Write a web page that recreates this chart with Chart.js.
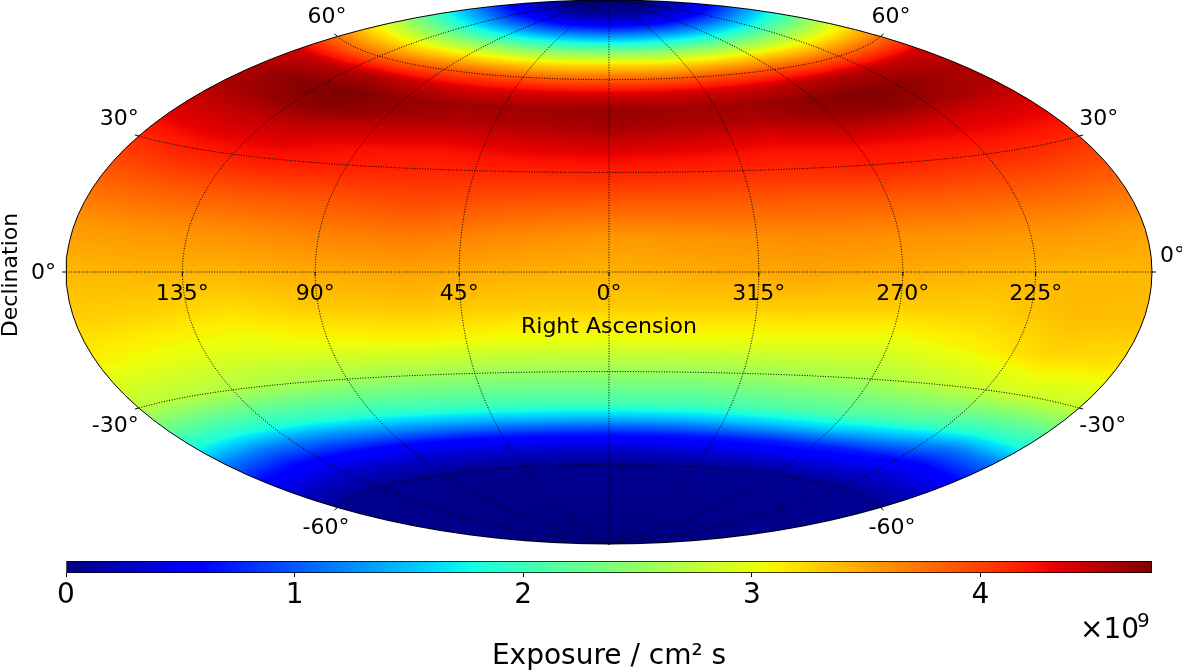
<!DOCTYPE html>
<html>
<head>
<meta charset="utf-8">
<style>
  html, body { margin: 0; background: #fff; }
  canvas { position: absolute; left: 0; }
</style>
<script src="https://cdn.jsdelivr.net/npm/chart.js@4"></script>
</head>
<body>
<canvas id="map" width="1182" height="560" style="top:0"></canvas>
<canvas id="bar" width="1182" height="116" style="top:555px"></canvas>
<script>
// exposure, units of 1e9 cm^2 s
const offsets = [-180, -150, -120, -90, -60, -30, 0, 30, 60, 90, 120, 150, 180]; // degrees from map centre, left to right
const declinations = [90, 85, 80, 75, 70, 65, 60, 55, 50, 45, 40, 35, 30, 20, 10, 0, -10, -20, -30, -40, -45, -50, -55, -60, -90];
const exposure = [
  [0, 0, 0, 0, 0, 0, 0, 0, 0, 0, 0, 0, 0],
  [.05, .05, .05, .05, .05, .05, .05, .05, .05, .05, .05, .05, .05],
  [.5, .5, .5, .5, .5, .5, .5, .5, .5, .5, .5, .5, .5],
  [1.4, 1.4, 1.4, 1.4, 1.4, 1.4, 1.4, 1.4, 1.4, 1.4, 1.4, 1.4, 1.4],
  [2.25, 2.28, 2.3, 2.32, 2.33, 2.34, 2.35, 2.34, 2.33, 2.32, 2.3, 2.28, 2.25],
  [3.05, 3.1, 3.15, 3.2, 3.2, 3.2, 3.25, 3.2, 3.2, 3.2, 3.15, 3.1, 3.05],
  [3.75, 3.78, 3.85, 3.9, 3.9, 3.85, 3.85, 3.85, 3.9, 3.92, 3.88, 3.82, 3.75],
  [4.4, 4.5, 4.55, 4.45, 4.38, 4.38, 4.38, 4.4, 4.42, 4.5, 4.55, 4.5, 4.4],
  [4.55, 4.72, 4.75, 4.68, 4.62, 4.62, 4.65, 4.62, 4.62, 4.7, 4.75, 4.65, 4.55],
  [4.58, 4.65, 4.72, 4.62, 4.55, 4.57, 4.62, 4.57, 4.55, 4.65, 4.68, 4.6, 4.55],
  [4.45, 4.48, 4.5, 4.42, 4.38, 4.42, 4.47, 4.42, 4.35, 4.45, 4.44, 4.4, 4.42],
  [4.32, 4.35, 4.35, 4.25, 4.22, 4.28, 4.3, 4.27, 4.22, 4.25, 4.26, 4.28, 4.28],
  [4.12, 4.2, 4.22, 4.18, 4.15, 4.15, 4.17, 4.14, 4.12, 4.18, 4.15, 4.14, 4.12],
  [3.83, 3.86, 3.88, 3.9, 3.95, 3.88, 3.85, 3.86, 3.85, 3.86, 3.86, 3.85, 3.82],
  [3.55, 3.58, 3.6, 3.66, 3.7, 3.62, 3.55, 3.58, 3.62, 3.6, 3.58, 3.57, 3.53],
  [3.4, 3.42, 3.42, 3.47, 3.5, 3.45, 3.43, 3.47, 3.5, 3.46, 3.42, 3.4, 3.4],
  [3.28, 3.26, 3.2, 3.3, 3.34, 3.3, 3.3, 3.3, 3.3, 3.28, 3.28, 3.38, 3.36],
  [3.08, 3.02, 2.97, 3.03, 3.08, 3.03, 3.03, 3.03, 3.0, 2.98, 3.1, 3.25, 3.18],
  [2.75, 2.72, 2.65, 2.6, 2.58, 2.55, 2.55, 2.55, 2.6, 2.65, 2.78, 2.85, 2.8],
  [1.85, 1.85, 1.9, 1.95, 2, 2.02, 2.05, 2.05, 2.1, 2.15, 2.1, 1.9, 1.85],
  [1.2, 1.15, 1.2, 1.3, 1.35, 1.4, 1.4, 1.42, 1.5, 1.55, 1.4, 1.15, 1.15],
  [.65, .6, .6, .6, .62, .65, .65, .68, .72, .75, .7, .58, .62],
  [.3, .3, .28, .3, .3, .3, .3, .32, .35, .38, .35, .3, .3],
  [.08, .07, .07, .06, .06, .07, .07, .07, .08, .08, .08, .08, .08],
  [0, 0, 0, 0, 0, 0, 0, 0, 0, 0, 0, 0, 0]
];
const raTicks = [135, 90, 45, 0, 315, 270, 225];
const decTicks = [-60, -30, 0, 30, 60];
const colorTicks = [0, 1, 2, 3, 4];
const vmax = 4.75;

const font = 'DejaVu Sans';
const rad = Math.PI / 180;

function raToOffset(ra) {
  return -(((ra + 180) % 360) - 180);
}

// Hammer projection
function project(offset, dec) {
  const l = offset * rad, p = dec * rad;
  const d = Math.sqrt(1 + Math.cos(p) * Math.cos(l / 2));
  return {
    x: 2 * Math.SQRT2 * Math.cos(p) * Math.sin(l / 2) / d,
    y: Math.SQRT2 * Math.sin(p) / d
  };
}

function unproject(x, y) {
  const t = 1 - x * x / 16 - y * y / 4;
  const z = Math.sqrt(t);
  return {
    offset: 2 * Math.atan2(z * x, 2 * (2 * t - 1)) / rad,
    dec: Math.asin(Math.max(-1, Math.min(1, z * y))) / rad
  };
}

// matplotlib jet
function seg(f, pts) {
  for (let i = 1; i < pts.length; i++) {
    if (f <= pts[i][0]) {
      const a = pts[i - 1], b = pts[i];
      return a[1] + (b[1] - a[1]) * (f - a[0]) / (b[0] - a[0]);
    }
  }
  return pts[pts.length - 1][1];
}
function jet(f) {
  f = Math.max(0, Math.min(1, f));
  return [
    seg(f, [[0, 0], [.35, 0], [.66, 1], [.89, 1], [1, .5]]) * 255,
    seg(f, [[0, 0], [.125, 0], [.375, 1], [.64, 1], [.91, 0], [1, 0]]) * 255,
    seg(f, [[0, .5], [.11, 1], [.34, 1], [.65, 0], [1, 0]]) * 255
  ];
}

function lookup(offset, dec) {
  let r = 0;
  while (r < declinations.length - 2 && dec < declinations[r + 1]) r++;
  const fr = (declinations[r] - dec) / (declinations[r] - declinations[r + 1]);
  const cf = Math.max(0, Math.min(offsets.length - 1.001, (offset + 180) / 30));
  const c = Math.floor(cf), fc = cf - c;
  const top = exposure[r][c] * (1 - fc) + exposure[r][c + 1] * fc;
  const bot = exposure[r + 1][c] * (1 - fc) + exposure[r + 1][c + 1] * fc;
  return top * (1 - fr) + bot * fr;
}

const heatmap = {
  id: 'heatmap',
  beforeDatasetsDraw(chart) {
    const { ctx, chartArea: a, scales } = chart;
    const x0 = Math.floor(a.left), y0 = Math.floor(a.top);
    const w = Math.ceil(a.right - a.left), h = Math.ceil(a.bottom - a.top);
    const img = ctx.createImageData(w, h);
    for (let j = 0; j < h; j++) {
      const y = scales.y.getValueForPixel(y0 + j + .5);
      for (let i = 0; i < w; i++) {
        const x = scales.x.getValueForPixel(x0 + i + .5);
        if (x * x / 8 + y * y / 2 > 1) continue;
        const u = unproject(x, y);
        const c = jet(lookup(u.offset, u.dec) / vmax);
        const k = (j * w + i) * 4;
        img.data[k] = c[0]; img.data[k + 1] = c[1]; img.data[k + 2] = c[2]; img.data[k + 3] = 255;
      }
    }
    ctx.putImageData(img, x0, y0);
  }
};

const mapLabels = {
  id: 'mapLabels',
  afterDatasetsDraw(chart) {
    const { ctx, scales } = chart;
    const px = (o, d) => {
      const p = project(o, d);
      return { x: scales.x.getPixelForValue(p.x), y: scales.y.getPixelForValue(p.y) };
    };
    ctx.save();
    ctx.fillStyle = '#000';
    ctx.strokeStyle = '#000';
    ctx.lineWidth = 1;
    ctx.font = '22px "' + font + '"';
    ctx.textBaseline = 'middle';

    ctx.textAlign = 'center';
    raTicks.forEach(ra => {
      const p = px(raToOffset(ra), 0);
      ctx.beginPath(); ctx.moveTo(p.x, p.y); ctx.lineTo(p.x, p.y + 4); ctx.stroke();
      ctx.fillText(ra + '°', p.x, p.y + 22);
    });

    decTicks.forEach(dec => {
      const up = dec === 60 ? -19 : dec === 30 ? -17 : dec === -30 ? 18 : 21;
      [-180, 180].forEach(o => {
        const p = px(o, dec);
        const inner = px(o > 0 ? o - 5 : o + 5, dec);
        const len = Math.hypot(p.x - inner.x, p.y - inner.y);
        ctx.beginPath();
        ctx.moveTo(p.x, p.y);
        ctx.lineTo(p.x + (p.x - inner.x) / len * 4, p.y + (p.y - inner.y) / len * 4);
        ctx.stroke();
        if (dec === 0) {
          if (o < 0) { ctx.textAlign = 'right'; ctx.fillText('0°', p.x - 10, p.y + 1); }
          else { ctx.textAlign = 'left'; ctx.fillText('0°', p.x + 8, p.y - 16); }
        } else if (o < 0) {
          ctx.textAlign = 'right';
          ctx.fillText(dec + '°', p.x + (dec === 60 ? 9 : dec === -60 ? 12 : 0), p.y + up);
        } else {
          ctx.textAlign = 'left';
          ctx.fillText(dec + '°', p.x - (dec === 60 ? 9 : dec === -60 ? 12 : 0), p.y + up);
        }
      });
    });

    ctx.textAlign = 'center';
    ctx.fillText('Right Ascension', scales.x.getPixelForValue(0), 327);
    ctx.translate(11, 275);
    ctx.rotate(-Math.PI / 2);
    ctx.fillText('Declination', 0, 0);
    ctx.restore();
  }
};

// graticule lines
const lineDatasets = [];
function addLine(data, dash) {
  lineDatasets.push({
    data, showLine: true, pointRadius: 0, borderColor: '#000',
    borderWidth: 1, borderDash: dash, clip: false
  });
}
const decSweep = [], offsetSweep = [];
for (let d = -90; d <= 90; d += 3) decSweep.push(d);
for (let o = -180; o <= 180; o += 5) offsetSweep.push(o);
raTicks.forEach(ra => addLine(decSweep.map(d => project(raToOffset(ra), d)), [1, 1.6]));
decTicks.forEach(dec => addLine(offsetSweep.map(o => project(o, dec)), [1, 1.6]));
// outline of the sphere
addLine(decSweep.map(d => project(-180, d)).concat(decSweep.slice().reverse().map(d => project(180, d))), []);

const gridPoints = [];
declinations.forEach((d, r) => offsets.forEach((o, c) => {
  gridPoints.push({ ...project(o, d), v: exposure[r][c] });
}));

new Chart(document.getElementById('map'), {
  type: 'scatter',
  data: {
    datasets: [{ label: 'Exposure', data: gridPoints, pointRadius: 0 }].concat(lineDatasets)
  },
  options: {
    responsive: false,
    animation: false,
    events: [],
    layout: { padding: { left: 66, right: 30, top: 0, bottom: 16 } },
    plugins: { legend: { display: false }, tooltip: { enabled: false } },
    scales: {
      x: { type: 'linear', display: false, min: -2 * Math.SQRT2, max: 2 * Math.SQRT2 },
      y: { type: 'linear', display: false, min: -Math.SQRT2, max: Math.SQRT2 }
    }
  },
  plugins: [heatmap, mapLabels]
});

const barLabels = {
  id: 'barLabels',
  afterDraw(chart) {
    const { ctx } = chart;
    ctx.save();
    ctx.fillStyle = '#000';
    ctx.textBaseline = 'alphabetic';
    ctx.textAlign = 'left';
    ctx.font = '28px "' + font + '"';
    ctx.fillText('×10', 1080, 83);
    ctx.font = '20px "' + font + '"';
    ctx.fillText('9', 1137, 72);
    ctx.restore();
  }
};

new Chart(document.getElementById('bar'), {
  type: 'bar',
  data: {
    labels: ['Exposure'],
    datasets: [{
      data: [[0, vmax]],
      borderColor: '#000',
      borderWidth: 1,
      borderSkipped: false,
      barPercentage: 1,
      categoryPercentage: 1,
      backgroundColor(c) {
        const a = c.chart.chartArea;
        if (!a) return '#000';
        const g = c.chart.ctx.createLinearGradient(a.left, 0, a.right, 0);
        for (let i = 0; i <= 128; i++) {
          const col = jet(i / 128);
          g.addColorStop(i / 128, 'rgb(' + col.map(Math.round).join(',') + ')');
        }
        return g;
      }
    }]
  },
  options: {
    indexAxis: 'y',
    responsive: false,
    animation: false,
    events: [],
    layout: { padding: { left: 66, right: 30, top: 6, bottom: 0 } },
    plugins: { legend: { display: false }, tooltip: { enabled: false } },
    scales: {
      y: { display: false },
      x: {
        type: 'linear',
        min: 0,
        max: vmax,
        afterFit(axis) { axis.height = 98; },
        afterBuildTicks(axis) { axis.ticks = colorTicks.map(v => ({ value: v })); },
        border: { display: false },
        grid: { drawOnChartArea: false, tickLength: 4, color: '#000', tickColor: '#000' },
        ticks: { color: '#000', font: { family: font, size: 28 }, padding: 2, maxRotation: 0 },
        title: {
          display: true,
          text: 'Exposure / cm² s',
          color: '#000',
          font: { family: font, size: 28 },
          padding: { top: 0, bottom: -3 }
        }
      }
    }
  },
  plugins: [barLabels]
});
</script>
</body>
</html>
